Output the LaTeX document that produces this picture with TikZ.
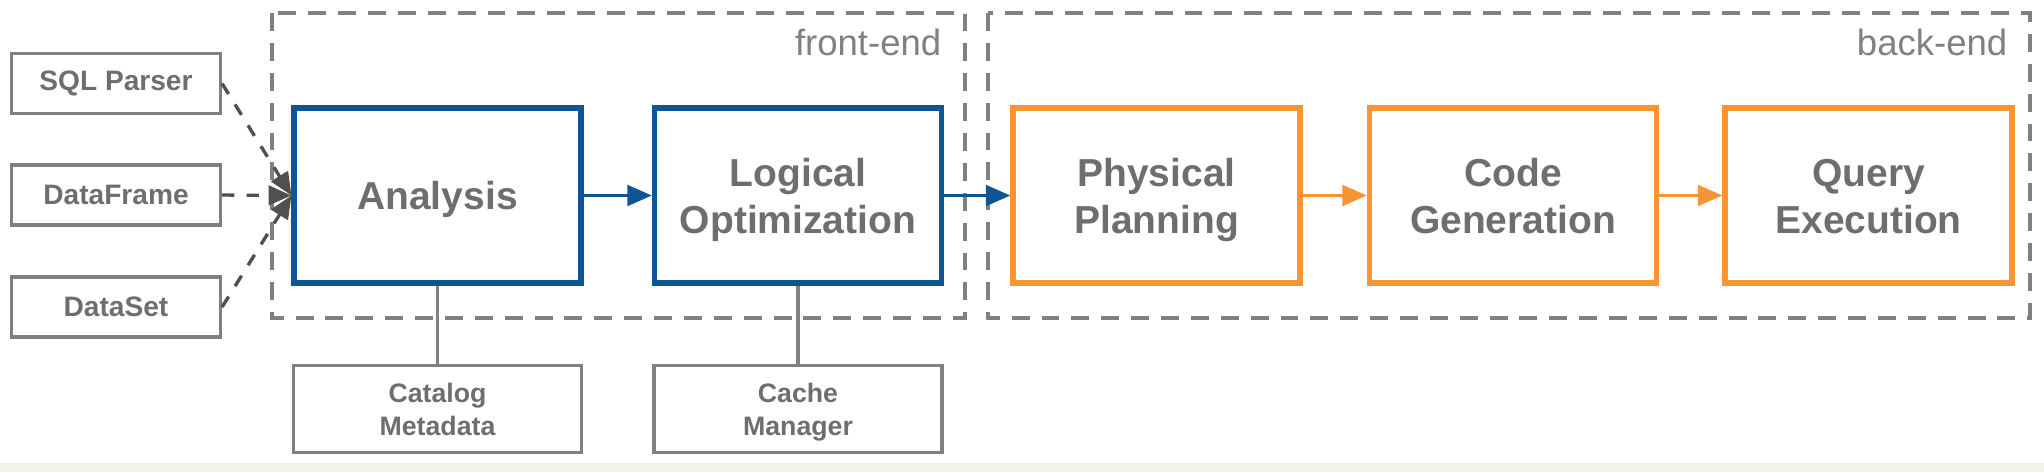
\documentclass[tikz,border=0pt]{standalone}
\usepackage{fontspec}
\setmainfont{Liberation Sans}
\usetikzlibrary{arrows.meta}
\definecolor{sparkblue}{RGB}{14,84,150}
\definecolor{sparkorange}{RGB}{247,148,52}
\definecolor{boxgray}{RGB}{128,128,128}
\definecolor{txtgray}{RGB}{110,110,110}
\definecolor{arrgray}{RGB}{80,80,80}
\definecolor{stripe}{RGB}{245,241,235}
% line struts for the box texts
\newcommand{\tstr}{\rule{0pt}{10.5pt}}
\newcommand{\bstr}{\rule[-2.4pt]{0pt}{2.4pt}}
\newcommand{\tsm}{\rule{0pt}{7.2pt}}
\newcommand{\bsm}{\rule[-1.7pt]{0pt}{1.7pt}}
\tikzset{
 phase/.style={draw, line width=1.45pt, minimum width=2.87cm, minimum height=1.75cm, align=center, text=txtgray, font=\fontsize{11.1}{13.4}\selectfont\bfseries, inner sep=0pt},
 front/.style={phase, draw=sparkblue},
 back/.style={phase, draw=sparkorange},
 src/.style={draw=boxgray, line width=0.9pt, minimum width=2.09cm, minimum height=0.6cm, text=txtgray, font=\fontsize{8}{9.6}\selectfont\bfseries, inner sep=0pt},
 aux/.style={src, minimum width=2.88cm, minimum height=0.87cm, align=center, font=\fontsize{7.6}{9.4}\selectfont\bfseries},
 stage/.style={draw=boxgray, line width=0.95pt, dash pattern=on 5.1pt off 3.4pt},
 stagelabel/.style={text=boxgray, font=\fontsize{10.4}{12}\selectfont, anchor=base east, inner sep=0pt},
 flow/.style={line width=1.1pt, -{Triangle[length=7pt,width=5.8pt]}},
 feed/.style={draw=arrgray, line width=0.95pt, dash pattern=on 3.5pt off 3.5pt, -{Triangle[length=6.5pt,width=5.5pt]}},
 link/.style={draw=boxgray, line width=0.9pt},
}
\begin{document}
\begin{tikzpicture}
\pgfmathsetmacro{\rowy}{-1.955}
\pgfmathsetmacro{\auxy}{-4.09}
\useasboundingbox (0,0) rectangle (20.44,-4.72);
\fill[stripe] (0,-4.63) rectangle (20.44,-4.72);
%stages
\draw[stage] (2.72,-0.13) rectangle (9.65,-3.18);
\draw[stage] (9.88,-0.13) rectangle (20.30,-3.18);
\node[stagelabel] (felab) at (9.42,-0.55) {front-end};
\node[stagelabel] (belab) at (20.08,-0.55) {back-end};
%inputs
\node[src] (sqlp) at (1.16,-0.835) {SQL Parser};
\node[src] (dfrm) at (1.16,-1.95) {DataFrame};
\node[src] (dset) at (1.16,-3.07) {DataSet};
%phases
\node[front] (ana) at (4.375,\rowy) {\tstr Analysis\bstr};
\node[front] (lopt) at (7.98,\rowy) {\tstr Logical\\Optimization\bstr};
\node[back] (phys) at (11.565,\rowy) {\tstr Physical\\Planning\bstr};
\node[back] (cgen) at (15.13,\rowy) {\tstr Code\\Generation\bstr};
\node[back] (qexe) at (18.685,\rowy) {\tstr Query\\Execution\bstr};
%helpers
\node[aux] (catm) at (4.375,\auxy) {\tsm Catalog\\Metadata\bsm};
\node[aux] (cmgr) at (7.98,\auxy) {\tsm Cache\\Manager\bsm};
%
\draw[feed] (sqlp.east) -- (ana.west);
\draw[feed] (dfrm.east) -- (ana.west);
\draw[feed] (dset.east) -- (ana.west);
\draw[flow,sparkblue] (ana) -- (lopt);
\draw[flow,sparkblue] (lopt) -- (phys);
\draw[flow,sparkorange] (phys) -- (cgen);
\draw[flow,sparkorange] (cgen) -- (qexe);
\draw[link] (ana.south) -- (catm.north);
\draw[link] (lopt.south) -- (cmgr.north);
\end{tikzpicture}
\end{document}
